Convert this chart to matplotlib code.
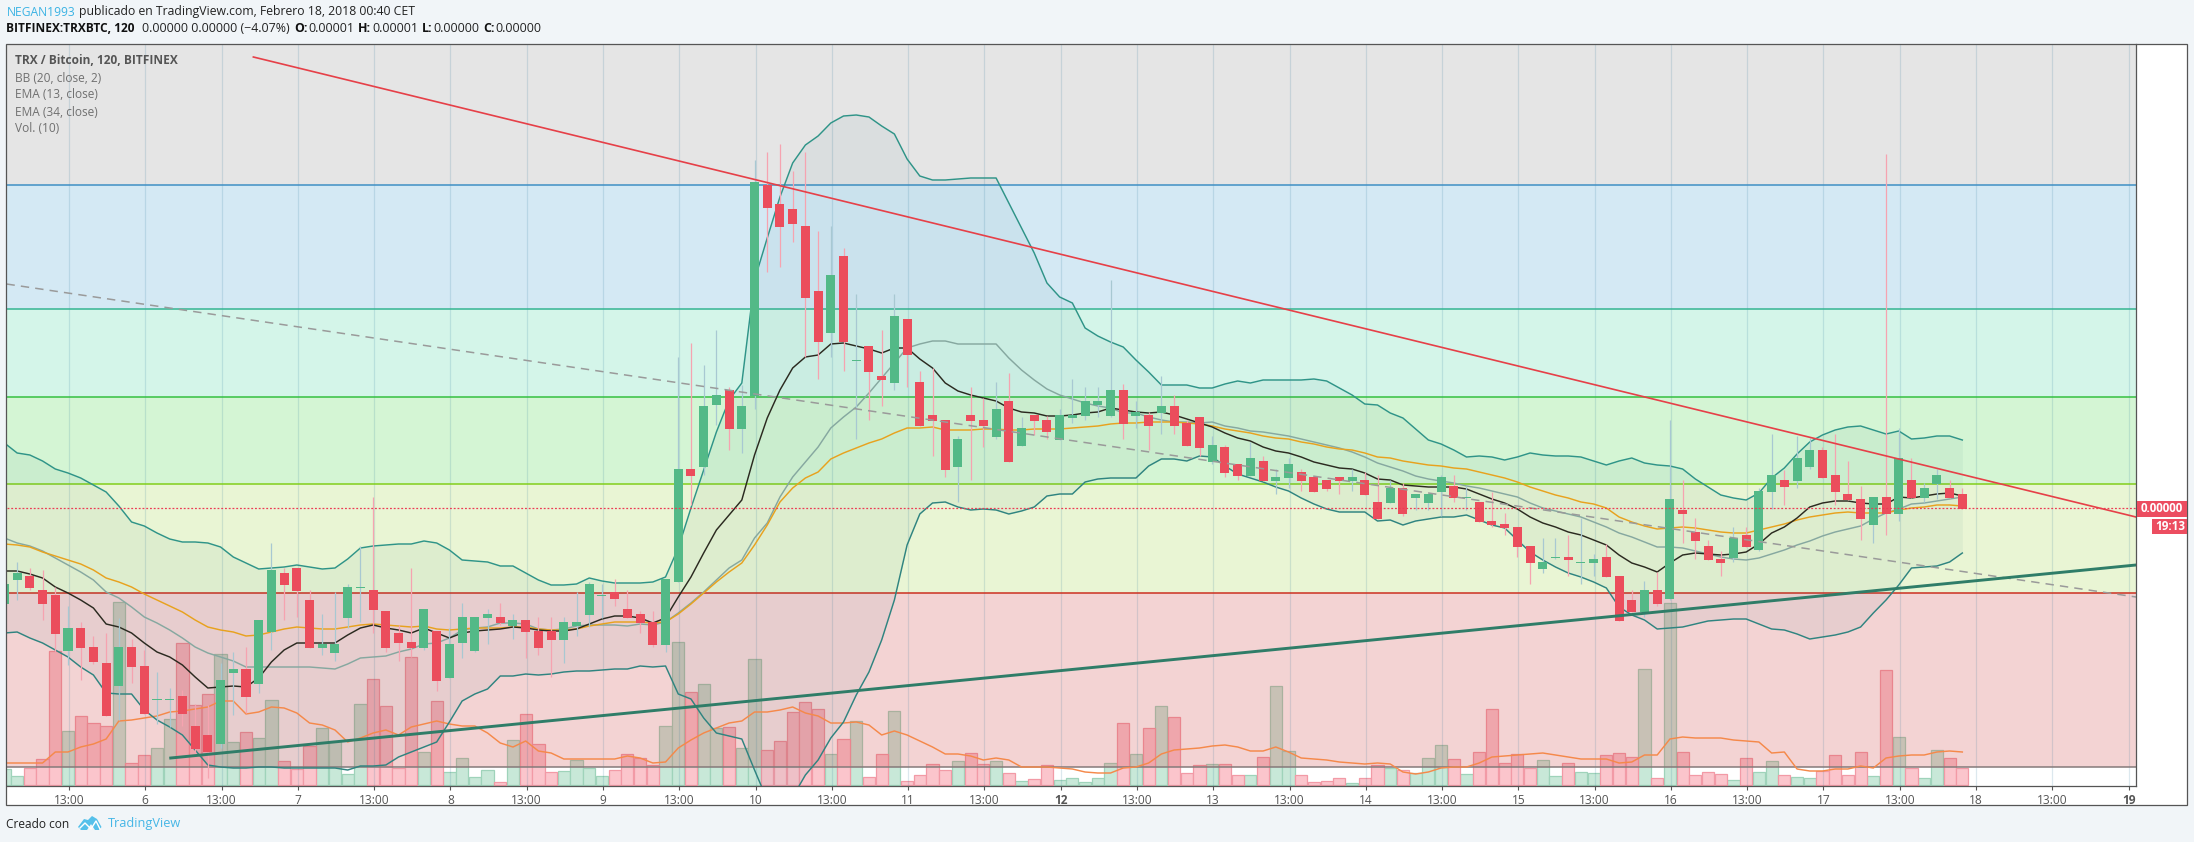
import matplotlib
matplotlib.use("Agg")
import matplotlib.pyplot as plt
from matplotlib.patches import Polygon, Rectangle
import numpy as np

W, H = 2194, 842
# All series are in chart-height units (smaller = higher price; the price scale is hidden)
DIRECTION = ("ggrrrgrrrg" "rrggrrrggr" "ggrrrggggr" "rrrgrggggr" "grrrggggrr" "rrggrggrgg" "rrrrrgrgrr" "grrrrgrrgr"
             "grrgggggrg" "rgrrrgrrgr" "ggrrrrgrrg" "rgggrgrrrr" "rggrggrrrg" "rgrrrrgrgg" "rggrrrrgrg" "rggrr")
BODY_TOP = [584,573,576,590,595,628,628,647,663,647, 647,666,699,699,696,726,735,680,669,669,
            620,570,573,568,600,644,644,587,587,590, 611,633,642,609,631,644,617,617,614,617,
            620,620,631,631,622,622,584,595,592,609, 614,622,579,469,469,406,395,390,406,182,
            185,204,209,226,291,275,256,360,346,376, 316,319,382,415,420,439,415,420,409,401,
            428,415,420,415,415,401,401,390,390,412, 415,406,406,423,417,445,447,464,458,461,
            477,464,472,477,480,477,477,480,502,488, 488,494,494,477,486,497,502,521,524,527,
            546,562,557,557,562,559,557,576,600,590, 590,499,510,532,546,559,538,535,491,475,
            480,458,450,450,475,494,499,497,497,458, 480,488,475,488,494]
BODY_BOT = [604,580,588,604,634,651,648,662,716,686, 667,714,699,699,714,749,752,744,673,697,
            684,632,585,591,648,648,653,618,587,610, 648,643,648,648,681,678,643,651,618,623,
            626,632,648,640,640,626,615,595,599,618, 623,645,645,582,476,467,405,429,429,396,
            208,227,224,298,342,333,342,360,372,380, 383,355,426,421,470,467,421,426,437,462,
            446,421,432,440,418,416,405,416,424,416, 426,413,426,446,448,462,473,476,476,481,
            481,478,481,492,489,481,481,495,519,503, 514,498,503,492,498,497,522,525,528,547,
            563,569,557,560,562,563,577,621,612,612, 604,599,514,541,560,563,558,547,550,492,
            487,481,467,478,492,500,519,525,514,514, 498,498,484,498,509]
WICK_TOP = [575,562,568,570,587,606,622,636,633,618, 639,650,672,688,690,704,705,663,652,647,
            620,543,568,568,590,614,592,584,546,497, 611,625,568,609,631,628,603,617,609,603,
            614,620,617,617,617,592,582,584,579,590, 611,611,579,357,343,365,330,387,385,160,
            152,144,171,152,231,226,248,294,346,330, 294,319,371,368,420,436,387,398,382,373,
            417,415,416,409,379,387,387,280,384,401, 412,376,395,420,417,436,445,464,442,456,
            469,458,469,477,480,477,469,472,475,480, 483,494,494,475,475,486,502,492,513,527,
            546,538,538,535,518,554,544,576,590,581, 572,420,480,518,540,551,527,527,488,434,
            470,436,438,447,434,461,486,497,154,428, 458,483,469,480,488]
WICK_BOT = [610,600,590,620,652,665,680,664,716,720, 683,714,724,727,726,757,778,748,715,713,
            693,650,620,617,648,655,661,628,622,633, 652,661,657,650,691,678,658,652,644,625,
            639,658,655,677,663,636,627,618,606,618, 633,647,652,582,505,475,425,450,453,409,
            272,267,242,357,379,357,371,439,420,406, 390,387,426,456,477,502,480,447,439,462,
            446,435,439,440,423,420,417,417,439,428, 450,434,434,446,456,464,477,480,476,481,
            494,488,491,492,491,494,491,495,519,503, 516,510,510,516,502,510,522,527,535,557,
            584,573,559,576,584,576,577,621,612,617, 606,600,543,559,560,576,562,547,551,509,
            505,488,469,478,505,500,540,543,535,521, 498,502,499,498,509]
VOL_TOP = [769,776,768,759,651,731,716,723,726,602, 763,755,748,719,643,705,694,654,742,732,
           738,700,761,769,746,728,741,774,704,679, 706,768,657,752,701,772,758,777,770,782,
           740,714,744,772,771,760,768,776,770,754, 758,765,726,642,692,684,728,727,748,659,
           750,741,712,702,709,754,739,721,777,754, 711,781,775,764,770,761,753,764,761,773,
           781,779,765,780,778,782,778,763,723,754, 728,706,717,773,765,764,764,775,775,757,
           686,751,775,782,781,778,783,778,765,768, 770,773,758,745,759,774,752,709,763,754,
           768,760,776,763,772,773,755,753,757,669, 778,603,752,775,772,774,780,758,772,761,
           775,777,778,771,755,775,752,776,670,737, 768,778,750,758,768]
BB_UPPER = [443,453,455,461,469,473,478,485,492,506, 522,526,533,539,542,542,543,547,557,563,
            569,568,567,565,567,569,568,559,548,546, 545,544,544,541,543,550,560,561,562,566,
            566,573,580,585,585,584,578,581,583,583, 583,582,577,548,508,470,432,400,383,280,
            238,197,163,145,136,123,116,115,117,126, 134,159,176,180,180,179,178,178,178,203,
            228,253,283,297,303,328,336,342,347,360, 372,385,385,385,388,388,384,381,383,380,
            380,380,380,379,381,388,395,404,405,413, 418,429,440,444,450,457,456,457,460,457,
            453,455,456,456,457,461,465,461,458,463, 465,466,469,479,487,495,498,500,493,478,
            468,454,442,435,430,427,426,430,434,431, 439,438,436,436,440]
BB_LOWER = [633,632,638,643,650,657,667,675,693,694, 694,710,720,727,735,750,765,767,768,768,
            767,767,768,768,768,768,768,770,766,766, 765,757,752,747,742,722,701,694,689,676,
            676,674,675,674,672,671,671,670,669,669, 666,667,666,694,699,718,733,736,739,770,
            800,810,797,775,760,738,722,695,672,640, 600,545,514,503,502,507,510,509,510,514,
            511,507,496,494,494,482,479,478,478,478, 466,459,459,461,456,457,466,474,478,482,
            487,491,498,504,509,512,512,512,521,520, 525,521,519,517,517,515,520,525,528,540,
            552,560,567,573,577,582,588,607,615,620, 629,628,627,624,621,620,619,619,624,629,
            630,634,639,637,635,632,627,613,600,585, 568,567,566,562,553]
BB_BASIS = [538,543,546,551,558,565,572,580,592,598, 607,617,623,630,638,647,653,657,661,667,
            667,667,667,667,667,668,669,664,658,657, 656,652,649,644,643,638,630,628,627,623,
            623,624,629,630,629,626,625,625,625,626, 624,625,622,613,603,592,580,568,560,538,
            523,497,477,462,447,428,417,407,393,378, 363,348,344,341,341,344,344,344,344,358,
            370,380,389,395,399,403,406,408,413,413, 417,420,422,422,423,422,426,428,431,432,
            434,436,439,442,445,448,452,457,463,467, 471,476,479,481,483,486,488,491,494,497,
            503,508,511,514,517,522,527,533,537,542, 547,547,548,551,554,557,559,560,558,554,
            550,545,541,536,532,529,526,519,513,509, 504,503,501,499,497]
EMA13 = [571,571,574,578,587,593,600,608,624,627, 633,643,652,657,665,677,688,687,686,687,
         678,662,650,643,643,643,643,635,628,625, 628,630,633,628,633,638,633,631,630,629,
         627,628,630,631,631,629,624,619,616,616, 618,623,618,597,577,553,530,515,500,455,
         418,390,368,357,355,344,343,346,349,353, 348,348,359,368,383,391,395,398,401,408,
         412,413,416,416,415,413,412,408,410,412, 413,412,415,419,423,427,433,438,441,447,
         451,453,457,462,465,468,469,473,479,480, 485,486,487,487,487,489,494,499,503,509,
         517,523,527,532,535,540,545,555,563,567, 572,563,555,553,554,555,554,552,544,533,
         527,518,507,503,501,501,503,504,504,497, 498,496,494,493,496]
EMA34 = [544,545,547,552,556,560,564,570,578,582, 587,594,600,606,612,620,627,630,632,636,
         635,632,629,627,628,629,629,627,625,624, 625,626,627,626,629,630,629,628,628,628,
         627,627,629,630,630,629,626,624,622,622, 622,623,622,614,604,593,582,572,563,545,
         525,502,488,478,472,459,453,448,443,439, 433,428,428,427,430,430,430,429,429,430,
         430,429,429,429,428,427,426,424,423,423, 422,422,422,423,424,426,429,431,433,436,
         438,439,442,444,447,449,450,453,457,458, 461,463,465,466,468,469,472,475,478,482,
         487,491,495,498,502,504,508,517,522,526, 529,528,527,528,530,532,533,533,530,527,
         524,520,517,515,513,512,513,513,513,510, 508,507,505,505,506]
VOL_MA = [763,763,763,763,752,752,747,744,739,721, 720,718,716,712,711,709,707,701,701,714,
          712,707,708,713,723,725,730,742,738,733, 730,735,727,724,721,724,726,726,733,743,
          747,741,751,753,759,759,759,759,759,756, 758,763,762,748,740,733,728,723,721,712,
          712,710,707,713,716,723,723,722,725,735, 731,735,741,747,754,754,756,760,758,760,
          767,767,767,768,769,772,773,773,768,767, 763,754,750,749,748,746,745,747,751,751,
          747,752,758,759,760,762,763,764,763,764, 772,774,772,768,767,767,763,757,756,755,
          754,753,755,757,759,759,759,763,762,755, 755,739,737,738,738,738,740,741,742,753,
          752,769,771,771,769,769,766,768,758,756, 755,755,752,751,752]
VOL_BASE = 785
LAST_PRICE = 508
FIB_LEVELS = [44, 185, 309, 397, 484, 593, 767]
FIB_FILLS = ['#e5e5e5', '#d4e9f4', '#d4f5e9', '#d4f5d4', '#e9f5d4']
FIB_LINES = ['#3f8fc4', '#35b592', '#35c040', '#82cf1c', '#cc3020', '#857a7a']
TREND_RED = ([19.5, 167.58], [57, 517])
TREND_DASH = ([0.08, 167.58], [284, 597])
TREND_GREEN = ([13.0, 167.58], [758, 565])
TICK_POS = list(range(5, 168, 6))
TICK_LABELS = ['13:00','6','13:00','7','13:00','8','13:00','9','13:00','10','13:00','11','13:00','12',
               '13:00','13','13:00','14','13:00','15','13:00','16','13:00','17','13:00','18','13:00','19']
BOLD_TICKS = {'12', '19'}

plt.rcParams['font.family'] = ['Open Sans', 'DejaVu Sans']
BG = '#f1f5f8'
fig = plt.figure(figsize=(W/100, H/100), dpi=100, facecolor=BG)
L, R, T, B = 6.5, 2136, 44, 786
RIGHT = 2187
ax = fig.add_axes([L/W, 1-B/H, (R-L)/W, (B-T)/H], facecolor='white')
ax.set_xlim(0.083, 167.58)
ax.set_ylim(B, T)
for s in ax.spines.values():
    s.set_visible(False)

idx = np.arange(len(DIRECTION)) - 0.08
is_up = np.array([c == 'g' for c in DIRECTION])

# volume below the translucent bands
vt = np.array(VOL_TOP)
ax.bar(idx[is_up], vt[is_up]-VOL_BASE, bottom=VOL_BASE, width=0.96, color='#c8e8d8', edgecolor='#9fd3ba', linewidth=0.9, zorder=1)
ax.bar(idx[~is_up], vt[~is_up]-VOL_BASE, bottom=VOL_BASE, width=0.96, color='#fbc5cc', edgecolor='#f29aa6', linewidth=0.9, zorder=1)

# fibonacci bands
for a, b, c in zip(FIB_LEVELS[:-2], FIB_LEVELS[1:-1], FIB_FILLS):
    ax.axhspan(a, b, color=c, lw=0, zorder=2)
ax.axhspan(FIB_LEVELS[-2], FIB_LEVELS[-1], facecolor=(204/255, 68/255, 68/255, 0.235), lw=0, zorder=2)
for lv, c in zip(FIB_LEVELS[1:], FIB_LINES):
    ax.axhline(lv, color=c, lw=1.1, zorder=3.5)

# grid
for t in TICK_POS:
    ax.axvline(t, color=(0.16, 0.45, 0.6, 0.16), lw=0.9, zorder=3)

# Bollinger
ax.fill_between(idx, BB_UPPER, BB_LOWER, color='#1f6f78', alpha=0.055, lw=0, zorder=4)
ax.plot(idx, VOL_MA, color='#f5894a', lw=1.05, zorder=5)
ax.plot(idx, BB_UPPER, color='#2f9488', lw=1.05, zorder=5.2)
ax.plot(idx, BB_LOWER, color='#2f8480', lw=1.05, zorder=5.2)
ax.plot(idx, BB_BASIS, color='#86a8a0', lw=1.05, zorder=5.2)
ax.plot(idx, EMA34, color='#e8a21e', lw=1.05, zorder=5.3)
ax.plot(idx, EMA13, color='#2b2a20', lw=1.05, zorder=5.4)

# candles
wt, wb, bt, bb = map(np.array, (WICK_TOP, WICK_BOT, BODY_TOP, BODY_BOT))
ax.vlines(idx[is_up], wt[is_up], wb[is_up], color='#a8c8d2', lw=0.9, zorder=6)
ax.vlines(idx[~is_up], wt[~is_up], wb[~is_up], color='#f6a3b0', lw=0.9, zorder=6)
h = np.maximum(bb-bt, 1.0)
ax.bar(idx[is_up], h[is_up], bottom=bt[is_up], width=0.71, color='#53b987', lw=0, zorder=7)
ax.bar(idx[~is_up], h[~is_up], bottom=bt[~is_up], width=0.71, color='#eb4d5c', lw=0, zorder=7)

# trend lines and last price
ax.plot(*TREND_DASH, color='#9a9a9a', lw=1.1, ls=(0, (5.5, 4)), zorder=8)
ax.plot(*TREND_RED, color='#e64048', lw=1.2, zorder=8)
ax.plot(*TREND_GREEN, color='#2f7d68', lw=2.1, zorder=8)
ax.axhline(LAST_PRICE, color='#ec3c55', lw=0.9, ls=(0, (1.5, 1.5)), zorder=9)

# time axis
ax.set_xticks(TICK_POS)
ax.set_xticklabels(TICK_LABELS)
ax.set_yticks([])
ax.tick_params(axis='x', length=3, width=0.8, color='#555555', pad=3, labelsize=8.6, labelcolor='#555555')
for lab in ax.get_xticklabels():
    if lab.get_text() in BOLD_TICKS:
        lab.set_fontweight('bold')

def ftext(x, y, s, **kw):
    kw.setdefault('fontsize', 8.6)
    kw.setdefault('va', 'center')
    return fig.text(x/W, 1-y/H, s, **kw)

# frame
def frect(x0, y0, x1, y1, **kw):
    fig.add_artist(Rectangle((x0/W, 1-y1/H), (x1-x0)/W, (y1-y0)/H, transform=fig.transFigure, **kw))
frect(R, T, RIGHT, 805, facecolor='white', edgecolor='none', zorder=0.5)
frect(L, B, R, 805, facecolor='white', edgecolor='none', zorder=0.5)
ax.set_zorder(2)
frect(L-0.5, T-0.5, RIGHT, 805, facecolor='none', edgecolor='#555555', lw=0.9, zorder=5)
fig.add_artist(plt.Line2D([L/W, R/W], [1-B/H, 1-B/H], color='#555555', lw=0.9, zorder=5))
fig.add_artist(plt.Line2D([R/W, R/W], [1-T/H, 1-B/H], color='#555555', lw=0.9, zorder=5))

# header
ftext(6.5, 12, 'NEGAN1993', color='#3bb3e4', fontsize=8.7)
ftext(79, 12, 'publicado en TradingView.com, Febrero 18, 2018 00:40 CET', color='#222222', fontsize=8.8)
ftext(6.5, 29, 'BITFINEX:TRXBTC, 120', color='#111111', fontweight='bold', fontsize=8.6)
ftext(142, 29, '0.00000 0.00000 (\u22124.07%)', color='#222222', fontsize=8.95)
for x, s, bold in [(294, 'O:', True), (308, '0.00001', False), (358, 'H:', True), (372, '0.00001', False),
                   (422, 'L:', True), (433.4, '0.00000', False), (483, 'C:', True), (495, '0.00000', False)]:
    ftext(x, 29, s, color='#111111' if bold else '#222222', fontweight='bold' if bold else 'normal', fontsize=8.95)

# legend
ftext(15, 61, 'TRX / Bitcoin, 120, BITFINEX', color='#555555', fontweight='bold', zorder=10)
for y, s in zip([78, 95, 112, 129], ['BB (20, close, 2)', 'EMA (13, close)', 'EMA (34, close)', 'Vol. (10)']):
    ftext(15, y, s, color='#707070', zorder=10)

# price labels
frect(R+1, 501, RIGHT, 517, facecolor='#ec4d60', edgecolor='none', zorder=6)
frect(2152, 519, RIGHT, 534, facecolor='#ec4d60', edgecolor='none', zorder=6)
ftext(2162, 509, '0.00000', color='white', ha='center', fontweight='bold', fontsize=8.4, zorder=7)
ftext(2170, 526.5, '19:13', color='white', ha='center', fontweight='bold', fontsize=8.4, zorder=7)

# footer
ftext(6.5, 824, 'Creado con', color='#222222', fontsize=8.6)
ftext(108, 824, 'TradingView', color='#45b6e6', fontsize=9.2)
logo = [(78,827),(84,819),(88,820),(92,816),(97,819),(101.5,827),(99,830),(95,830),(91,824),(87,830),(81,830)]
fig.add_artist(Polygon([(x/W, 1-y/H) for x, y in logo], closed=True, transform=fig.transFigure, facecolor='#55c0ea', edgecolor='none'))
fig.add_artist(plt.Line2D([x/W for x in (80, 85, 91, 96, 100)], [1-y/H for y in (828, 823, 829, 821, 829)], color='white', lw=1.0))

fig.savefig('out.png', dpi=100, facecolor=BG)
